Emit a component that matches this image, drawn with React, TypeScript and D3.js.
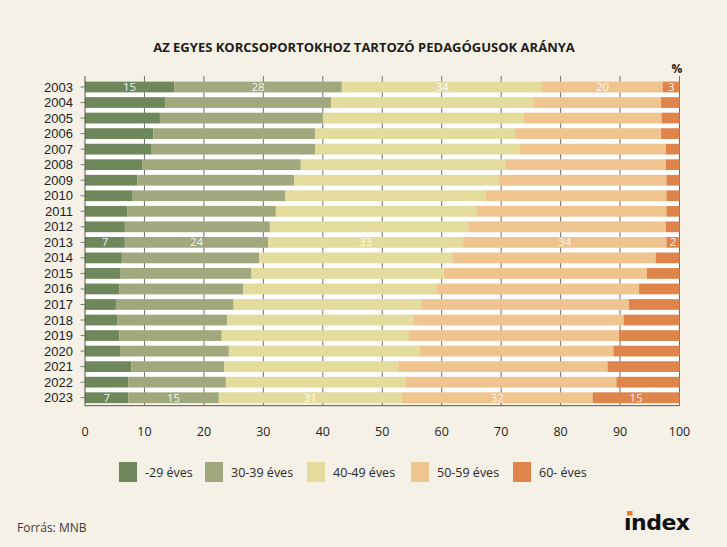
import React from 'react';
import * as d3 from 'd3';

const years = ['2003','2004','2005','2006','2007','2008','2009','2010','2011','2012','2013','2014','2015','2016','2017','2018','2019','2020','2021','2022','2023'];
const under29 = [15.0,13.5,12.6,11.5,11.1,9.6,8.8,7.9,7.1,6.7,6.7,6.2,6.0,5.8,5.2,5.4,5.8,6.0,7.8,7.3,7.3];
const age30_39 = [28.2,27.9,27.4,27.2,27.6,26.7,26.4,25.8,25.0,24.4,24.1,23.1,22.0,20.8,19.8,18.5,17.2,18.2,15.6,16.4,15.2];
const age40_49 = [33.7,34.0,33.8,33.6,34.4,34.5,34.4,33.7,33.8,33.4,32.8,32.5,32.3,32.5,31.6,31.4,31.5,32.1,29.3,30.3,30.8];
const age50_59 = [20.3,21.5,23.2,24.6,24.6,26.9,28.2,30.4,31.9,33.2,34.2,34.2,34.2,34.1,34.9,35.3,35.3,32.6,35.2,35.4,32.1];
const age60 = [2.8,3.1,3.0,3.1,2.3,2.3,2.2,2.2,2.2,2.3,2.2,4.0,5.5,6.8,8.5,9.4,10.2,11.1,12.1,10.6,14.6];
const seriesNames = ['-29 éves','30-39 éves','40-49 éves','50-59 éves','60- éves'];
const labeledYears = ['2003','2013','2023'];
const xTicks = [0,10,20,30,40,50,60,70,80,90,100];

const colors = ['#6e875b','#a2a87d','#e3dc9c','#efc48f','#df844a'];
const FONT = '"Open Sans", "DejaVu Sans", sans-serif';

export default function App() {
  const W = 727, H = 547;
  const keys = ['a','b','c','d','e'];
  const rows = years.map((y, i) => ({ year: y, a: under29[i], b: age30_39[i], c: age40_49[i], d: age50_59[i], e: age60[i] }));
  const stacked = d3.stack<any>().keys(keys)(rows);

  const x = d3.scaleLinear().domain([0, 100]).range([85, 679.5]);
  const y = d3.scaleBand<string>().domain(years).range([79, 405.7]).paddingInner(0.31).paddingOuter(0.17);
  const bw = y.bandwidth();
  const plotTop = 76, plotBottom = 405.7;

  const legendX = [119, 205, 307, 411, 513];

  return (
    <svg width={W} height={H} style={{ position: 'absolute', left: 0, top: 0 }} fontFamily={FONT}>
      <rect x={0} y={0} width={W} height={H} fill="#f5f1e7" />
      <text x={364} y={52} textAnchor="middle" fontSize={13} fontWeight={700} fill="#1d1d1b">AZ EGYES KORCSOPORTOKHOZ TARTOZÓ PEDAGÓGUSOK ARÁNYA</text>
      <text x={677} y={73} textAnchor="middle" fontSize={12} fontWeight={700} fill="#1d1d1b">%</text>

      {/* white gaps between bars */}
      {years.slice(0, -1).map((yr, i) => {
        const y0 = (y(yr) as number) + bw;
        const y1 = y(years[i + 1]) as number;
        return <rect key={'g' + yr} x={x(0)} y={y0} width={x(100) - x(0)} height={y1 - y0} fill="#ffffff" />;
      })}

      {/* gridlines */}
      {xTicks.slice(1).map(t => (
        <line key={'gl' + t} x1={x(t)} x2={x(t)} y1={plotTop} y2={plotBottom} stroke="#6f6f6f" strokeWidth={1} />
      ))}

      {/* bars */}
      {stacked.map((s, si) => (
        <g key={'s' + si} fill={colors[si]}>
          {s.map((d: any, i: number) => (
            <rect key={years[i]} x={x(d[0])} y={y(years[i])} width={x(d[1]) - x(d[0])} height={bw} />
          ))}
        </g>
      ))}

      {/* value labels */}
      {stacked.map((s, si) => (
        <g key={'l' + si}>
          {s.map((d: any, i: number) => labeledYears.includes(years[i]) ? (
            <text key={years[i]} x={(x(d[0]) + x(d[1])) / 2} y={(y(years[i]) as number) + bw / 2 + 4} textAnchor="middle" fontSize={11.5} fill="#ffffff" fillOpacity={0.92}>
              {Math.round(d[1] - d[0])}
            </text>
          ) : null)}
        </g>
      ))}

      {/* axes */}
      <line x1={x(0)} x2={x(0)} y1={plotTop} y2={plotBottom} stroke="#555" strokeWidth={1} />
      <line x1={x(0)} x2={x(100)} y1={plotBottom} y2={plotBottom} stroke="#555" strokeWidth={1} />
      {years.map(yr => {
        const cy = (y(yr) as number) + bw / 2;
        return (
          <g key={'yt' + yr}>
            <line x1={80.5} x2={85} y1={cy} y2={cy} stroke="#777" strokeWidth={1} />
            <text x={73} y={cy + 4.5} textAnchor="end" fontSize={13} fill="#1d1d1b" fontFamily='"Liberation Sans", Arial, sans-serif'>{yr}</text>
          </g>
        );
      })}
      {xTicks.map(t => (
        <text key={'xt' + t} x={x(t)} y={435.5} textAnchor="middle" fontSize={12.5} fill="#1d1d1b">{t}</text>
      ))}

      {/* legend */}
      {seriesNames.map((n, i) => (
        <g key={'lg' + i}>
          <rect x={legendX[i]} y={462} width={18} height={20} fill={colors[i]} />
          <text x={legendX[i] + 26} y={476.5} fontSize={12.5} fill="#2a2a2a">{n}</text>
        </g>
      ))}

      <text x={17} y={532} fontSize={12} fill="#3a3a3a">Forrás: MNB</text>
      <text x={624} y={530} fontSize={22} fontWeight={900} fill="#111" fontFamily='"DejaVu Sans", sans-serif' letterSpacing={-0.5}>ındex</text>
      <rect x={627} y={511} width={5.5} height={4.5} fill="#f07c1c" />
    </svg>
  );
}
